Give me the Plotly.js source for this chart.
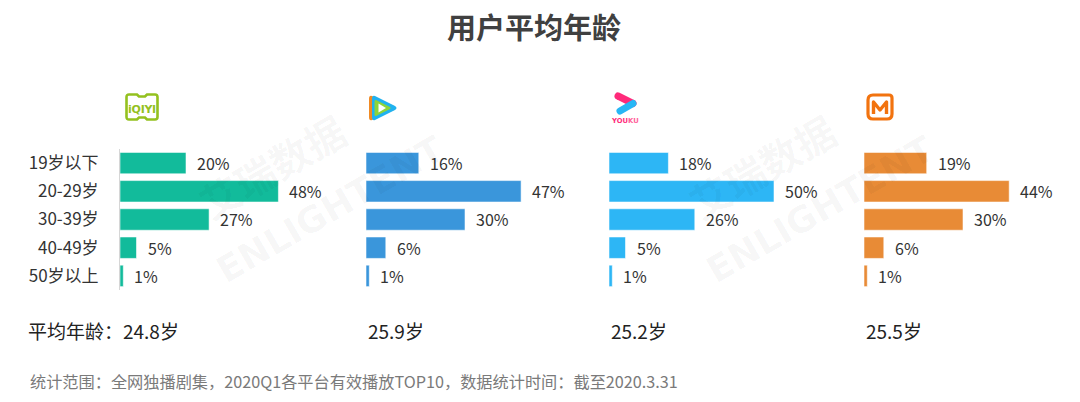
<!DOCTYPE html>
<html>
<head>
<meta charset="utf-8">
<script src="https://cdn.plot.ly/plotly-3.0.1.min.js"></script>
<style>
html,body{margin:0;padding:0;background:#fff;}
#chart{width:1080px;height:402px;}
</style>
</head>
<body>
<div id="chart"></div>
<script>
// ---------- data ----------
const categories = ['19岁以下', '20-29岁', '30-39岁', '40-49岁', '50岁以上'];
const platforms = ['爱奇艺', '腾讯视频', '优酷', '芒果TV'];
const iqiyiShare = [20, 48, 27, 5, 1];
const tencentShare = [16, 47, 30, 6, 1];
const youkuShare = [18, 50, 26, 5, 1];
const mangoShare = [19, 44, 30, 6, 1];
const avgAge = [24.8, 25.9, 25.2, 25.5];
const avgAgePrefix = ['平均年龄：', '', '', ''];
const titleText = '用户平均年龄';
const footnoteText = '统计范围：全网独播剧集，2020Q1各平台有效播放TOP10，数据统计时间：截至2020.3.31';

// ---------- styles ----------
const W = 1080, H = 402;
const seriesList = [iqiyiShare, tencentShare, youkuShare, mangoShare];
const colors = ['#12BB9B', '#3A96DB', '#2DB6F5', '#E88B36'];
const panelLeft = [120, 366, 609, 864];   // px
const panelWidth = 198;                  // px  (range 0..60)
const plotTop = 149, plotBottom = 290;   // px
const FONT = '"Noto Sans CJK SC", "Noto Sans", sans-serif';

const px = v => v / W;
const py = v => 1 - v / H;

const traces = [];
const annotations = [];
const layout = {
  width: W, height: H,
  margin: {l: 0, r: 0, t: 0, b: 0},
  paper_bgcolor: '#fff', plot_bgcolor: 'rgba(0,0,0,0)',
  showlegend: false,
  bargap: 0.24,
  font: {family: FONT, color: '#333'},
  title: {text: titleText, x: 534 / W, xanchor: 'center', y: py(29), yanchor: 'middle',
          font: {family: FONT, size: 29, color: '#404040', weight: 'bold'}},
  annotations: annotations,
  images: []
};

// faint watermarks (drawn first, beneath other annotations)
[0, 490].forEach(dx => {
  annotations.push({xref: 'paper', yref: 'paper', x: px(272 + dx), y: py(166), xanchor: 'center', yanchor: 'middle',
    showarrow: false, text: '艾瑞数据', textangle: -30,
    font: {family: FONT, size: 40, color: 'rgba(0,0,0,0.04)', weight: 'bold'}});
  annotations.push({xref: 'paper', yref: 'paper', x: px(330 + dx), y: py(210), xanchor: 'center', yanchor: 'middle',
    showarrow: false, text: 'ENLIGHTENT', textangle: -30,
    font: {family: 'DejaVu Sans', size: 36, color: 'rgba(0,0,0,0.04)', weight: 'bold'}});
});

seriesList.forEach((vals, i) => {
  const n = i === 0 ? '' : String(i + 1);
  traces.push({
    type: 'bar', orientation: 'h',
    x: vals, y: categories,
    xaxis: 'x' + n, yaxis: 'y' + n,
    name: platforms[i],
    marker: {color: colors[i], line: {color: 'rgba(255,255,255,0.55)', width: 1}},
    hoverinfo: 'x+y'
  });
  layout['xaxis' + n] = {
    domain: [px(panelLeft[i]), px(panelLeft[i] + panelWidth)],
    range: [0, 60], visible: false, fixedrange: true
  };
  layout['yaxis' + n] = {
    domain: [py(plotBottom), py(plotTop)],
    autorange: 'reversed', type: 'category',
    showgrid: false, zeroline: false,
    showline: i === 0, linecolor: '#D6D6D6', linewidth: 1,
    showticklabels: i === 0,
    ticks: i === 0 ? 'outside' : '', ticklen: 17, tickcolor: 'rgba(0,0,0,0)',
    tickfont: {family: FONT, size: 17, color: '#333'},
    anchor: 'x' + n, fixedrange: true
  };
  vals.forEach((v, j) => {
    annotations.push({
      xref: 'x' + n, yref: 'y' + n, x: v, y: categories[j],
      text: v + '%', showarrow: false, xanchor: 'left', yanchor: 'middle', xshift: 9,
      font: {family: FONT, size: 16, color: '#333'}
    });
  });
  annotations.push({
    xref: 'paper', yref: 'paper',
    x: i === 0 ? px(26) : px(panelLeft[i]), y: py(330),
    xanchor: 'left', yanchor: 'middle', showarrow: false,
    text: avgAgePrefix[i] + avgAge[i] + '岁',
    font: {family: FONT, size: 19, color: '#222'}
  });
});

// footnote
annotations.push({
  xref: 'paper', yref: 'paper', x: px(28), y: py(381), xanchor: 'left', yanchor: 'middle',
  showarrow: false, text: footnoteText, font: {family: FONT, size: 16.2, color: '#7a7a7a'}
});

// ---------- logos (decorative SVG images) ----------
const svgURI = s => 'data:image/svg+xml;charset=utf-8,' + encodeURIComponent(s);
const logos = [
  // iQIYI
  {x: 125, y: 93, w: 34, h: 28, svg:
   '<svg xmlns="http://www.w3.org/2000/svg" viewBox="0 0 34 28">' +
   '<path d="M4 1.5 H12 L14 3.5 H20 L22 1.5 H30 Q32.5 1.5 32.5 4 V24 Q32.5 26.5 30 26.5 H22 L20 24.5 H14 L12 26.5 H4 Q1.5 26.5 1.5 24 V4 Q1.5 1.5 4 1.5 Z" fill="none" stroke="#94C11F" stroke-width="2.6"/>' +
   '<text x="17" y="19.5" text-anchor="middle" font-family="DejaVu Sans" font-weight="bold" font-size="11" fill="#94C11F" letter-spacing="-0.3">iQIYI</text></svg>'},
  // Tencent Video
  {x: 367, y: 94, w: 30, h: 28, svg:
   '<svg xmlns="http://www.w3.org/2000/svg" viewBox="0 0 30 28">' +
   '<path d="M5 2 Q2 1 2 5 V23 Q2 27 5 26 L27 16 Q30 14 27 12 Z" fill="#F08A24"/>' +
   '<path d="M8 2 Q5 1 5 5 V23 Q5 27 8 26 L28 16 Q31 14 28 12 Z" fill="#20B2F0"/>' +
   '<path d="M9 6 Q7.5 5.5 7.5 7.5 V20.5 Q7.5 22.5 9 22 L23 15 Q24.5 14 23 13 Z" fill="#8CD43A"/>' +
   '<path d="M11.5 9.5 V18.5 L19 14 Z" fill="#ffffff"/></svg>'},
  // Youku
  {x: 611, y: 91, w: 30, h: 33, svg:
   '<svg xmlns="http://www.w3.org/2000/svg" viewBox="0 0 30 33">' +
   '<path d="M7 5 L22 12.5" stroke="#FF2A7A" stroke-width="7" stroke-linecap="round"/>' +
   '<path d="M22 12.5 L9 20" stroke="#27B6F5" stroke-width="7" stroke-linecap="round"/>' +
   '<text x="1" y="32" font-family="DejaVu Sans" font-weight="bold" font-size="6.8" fill="#FF2A7A">YOU<tspan fill="#FF5E9A">KU</tspan></text></svg>'},
  // Mango TV
  {x: 865, y: 93, w: 29, h: 28, svg:
   '<svg xmlns="http://www.w3.org/2000/svg" viewBox="0 0 29 28">' +
   '<path d="M3 7 Q3 2 8 2 H24 Q27 2 27 5 V21 Q27 26 22 26 H8 Q3 26 3 21 Z" fill="none" stroke="#F2730F" stroke-width="3.2"/>' +
   '<path d="M8.5 21 V9 L15 17 L21.5 9 V21" fill="none" stroke="#F2730F" stroke-width="3.4" stroke-linejoin="round"/></svg>'}
];
logos.forEach(lg => {
  layout.images.push({
    source: svgURI(lg.svg), xref: 'paper', yref: 'paper',
    x: px(lg.x), y: py(lg.y), sizex: lg.w / W, sizey: lg.h / H,
    xanchor: 'left', yanchor: 'top', sizing: 'stretch', layer: 'above'
  });
});

Plotly.newPlot('chart', traces, layout, {displayModeBar: false});
</script>
</body>
</html>
